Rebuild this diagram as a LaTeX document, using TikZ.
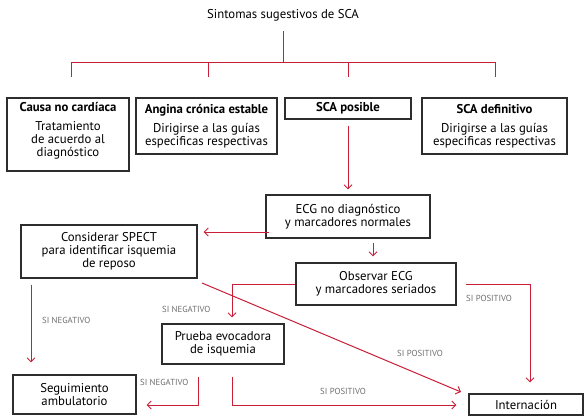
\documentclass[tikz,border=0pt]{standalone}
\usepackage{fontspec}
\setmainfont{PT Sans}
\usetikzlibrary{arrows.meta,calc}
\definecolor{lred}{RGB}{200,30,55}
\definecolor{lgray}{RGB}{110,110,110}
\definecolor{bdr}{RGB}{45,45,45}
\begin{document}
\begin{tikzpicture}[x=1bp,y=-1bp,
  box/.style={draw=bdr, line width=1.1bp, inner sep=0pt, align=center, font=\fontsize{12.8}{13}\selectfont},
  lnk/.style={draw=lred, line width=1bp},
  arr/.style={lnk, -{Straight Barb[length=4bp,width=8bp]}},
  lbl/.style={font=\fontsize{8.8}{9}\selectfont, text=lgray, inner sep=0pt, anchor=west}]
\useasboundingbox (0,0) rectangle (586,416);

% title
\node[inner sep=0pt, font=\fontsize{12.8}{13}\selectfont] (title) at (283,15) {Sintomas sugestivos de SCA};

% top row boxes
\node[box, minimum width=122bp, minimum height=73bp] (causa) at (68,134.5)
  {\textbf{Causa no cardíaca}\\[6bp]Tratamiento\\de acuerdo al\\diagnóstico\\[-2bp]};
\node[box, minimum width=141bp, minimum height=56bp] (angina) at (206.5,126)
  {\textbf{Angina crónica estable}\\[6bp]Dirigirse a las guías\\especificas respectivas};
\node[box, minimum width=126bp, minimum height=21bp] (posible) at (348,108.5)
  {\textbf{SCA posible}};
\node[box, minimum width=145bp, minimum height=56bp] (defin) at (494.5,126)
  {\textbf{SCA definitivo}\\[6bp]Dirigirse a las guías\\especificas respectivas};

% lower boxes
\node[box, minimum width=164bp, minimum height=43bp] (ecg) at (348,216.5)
  {ECG no diagnóstico\\y marcadores normales};
\node[box, minimum width=176bp, minimum height=53bp] (spect) at (109,251.5)
  {Considerar SPECT\\para identificar isquemia\\de reposo};
\node[box, minimum width=160bp, minimum height=42bp] (obs) at (376,284)
  {Observar ECG\\y marcadores seriados};
\node[box, minimum width=122bp, minimum height=40bp] (prueba) at (223,344)
  {Prueba evocadora\\de isquemia};
\node[box, minimum width=123bp, minimum height=39bp] (seg) at (74.5,394.5)
  {Seguimiento\\ambulatorio};
\node[box, minimum width=114bp, minimum height=21bp] (intern) at (526,404.5)
  {Internación};

% tree connector
\coordinate (t0) at (283,31);
\coordinate (t1) at (283,62);
\coordinate (h1) at (71,62);  \coordinate (d1) at (71,77);
\coordinate (h2) at (208,62); \coordinate (d2) at (208,77);
\coordinate (h3) at (348,62); \coordinate (d3) at (348,77);
\coordinate (h4) at (495,62); \coordinate (d4) at (495,77);
\draw[lnk] (t0) -- (t1);
\draw[lnk] (d1) -- (h1) -- (h4) -- (d4);
\draw[lnk] (h2) -- (d2);
\draw[lnk] (h3) -- (d3);

% posible -> ecg
\draw[arr, shorten <=6bp, shorten >=5bp] (posible.south) -- (ecg.north);

% ecg -> spect
\coordinate (ya) at (0,232);
\draw[arr, shorten <=-4bp, shorten >=6bp] (ecg.west |- ya) -- (spect.east |- ya);

% ecg -> obs
\coordinate (xa) at (373,0);
\draw[arr, shorten <=4bp, shorten >=6bp] (ecg.south -| xa) -- (obs.north -| xa);

% obs -> internacion
\coordinate (xb) at (530,0);
\draw[arr, shorten <=9bp, shorten >=11bp] (obs.east) -| (intern.north -| xb);
\node[lbl] (l1) at (466,298) {SI POSITIVO};

% obs -> prueba
\coordinate (xc) at (232,0);
\draw[arr, shorten >=6bp] (obs.west) -| (prueba.north -| xc);
\node[lbl] (l2) at (162,309) {SI NEGATIVO};

% spect -> seg
\coordinate (xd) at (31,0);
\draw[arr, shorten <=6bp, shorten >=12bp] (spect.south -| xd) -- (seg.north -| xd);
\node[lbl] (l3) at (42,320) {SI NEGATIVO};

% spect -> internacion diagonal
\coordinate (s1) at (202,283);
\coordinate (s2) at (461,392);
\draw[arr] (s1) -- (s2);
\node[lbl] (l4) at (397,353) {SI POSITIVO};

% prueba -> seg
\coordinate (xe) at (198,0);
\coordinate (yb) at (0,405);
\draw[arr, shorten <=12bp, shorten >=10bp] (prueba.south -| xe) |- (seg.east |- yb);
\node[lbl] (l5) at (140,382) {SI NEGATIVO};

% prueba -> internacion
\draw[arr, shorten <=12bp, shorten >=12bp] (prueba.south -| xc) |- (intern.west |- yb);
\node[lbl] (l6) at (320,391) {SI POSITIVO};
\end{tikzpicture}
\end{document}
